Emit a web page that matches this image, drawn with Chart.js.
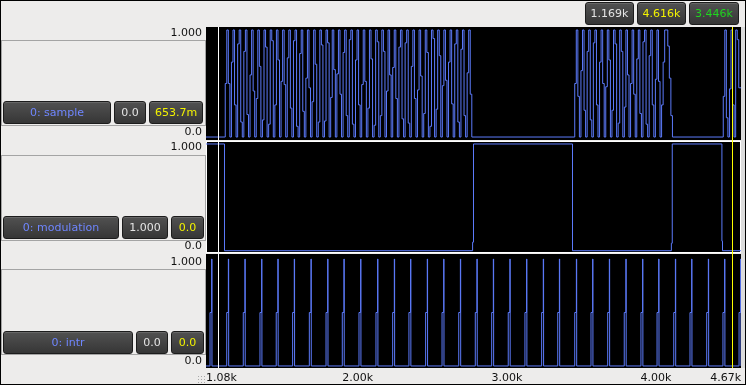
<!DOCTYPE html>
<html>
<head>
<meta charset="utf-8">
<script src="https://cdn.jsdelivr.net/npm/chart.js@4.4.1/dist/chart.umd.min.js"></script>
<style>
  body { margin: 0; background: #edeceb; font-family: "DejaVu Sans", sans-serif; font-size: 11px; }
  #wrap { position: relative; width: 746px; height: 385px; overflow: hidden; }
  #plot { position: absolute; left: 0; top: 0; }
  .frame { position: absolute; left: 0; top: 0; width: 746px; height: 385px; box-sizing: border-box; border: 1px solid #000; pointer-events: none; }
  .track { position: absolute; left: 1px; width: 205px; height: 86px; box-sizing: border-box; border: 1px solid #a4a4a4; }
  .btn { position: absolute; box-sizing: border-box; height: 23px; line-height: 21px; text-align: center; color: #e4e4e4;
         background: linear-gradient(#515151, #363636); border: 1px solid #1c1c1c; border-radius: 3px;
         box-shadow: inset 0 1px 0 rgba(255,255,255,.13); white-space: nowrap; }
  .name { color: #6f86ff; }
  .yel { color: #f2f200; }
  .grn { color: #1fd41f; }
  .strip { position: absolute; left: 741px; top: 27px; width: 4px; height: 341px; background: #dcdcdc; }
  .grip { position: absolute; left: 197px; top: 375px; width: 8px; height: 8px;
          background-image: radial-gradient(#a8a8a8 0.8px, transparent 1px); background-size: 3px 3px; }
</style>
</head>
<body>
<div id="wrap">
  <canvas id="plot" width="746" height="385"></canvas>
  <div class="strip"></div>

  <div class="track" style="top:40px"></div>
  <div class="btn name" style="left:3px;top:101px;width:108px">0: sample</div>
  <div class="btn" style="left:114px;top:101px;width:32px">0.0</div>
  <div class="btn yel" style="left:149px;top:101px;width:54px">653.7m</div>

  <div class="track" style="top:155px"></div>
  <div class="btn name" style="left:3px;top:216px;width:116px">0: modulation</div>
  <div class="btn" style="left:122px;top:216px;width:46px">1.000</div>
  <div class="btn yel" style="left:171px;top:216px;width:33px">0.0</div>

  <div class="track" style="top:269px"></div>
  <div class="btn name" style="left:3px;top:331px;width:130px">0: intr</div>
  <div class="btn" style="left:136px;top:331px;width:32px">0.0</div>
  <div class="btn yel" style="left:171px;top:331px;width:33px">0.0</div>

  <div class="btn" style="left:585px;top:2px;width:49px">1.169k</div>
  <div class="btn yel" style="left:637px;top:2px;width:49px">4.616k</div>
  <div class="btn grn" style="left:689px;top:2px;width:50px">3.446k</div>

  <div class="grip"></div>
  <div class="frame"></div>
</div>
<script>
// visible sample range and axis labels
const xMin = 1086;
const xMax = 4674;
const xTickValues = [1086, 2000, 3000, 4000];
const yTickLabels = ['0.0', '1.000'];

// cursors (sample index)
const cursorA = 1169;
const cursorB = 4616;

// modulation: change points and the level held after each
const modX = [1086, 1210, 2874, 2880, 3544, 4207, 4213, 4546, 4550];
const modY = [1, 0, 0.08, 1, 0, 0.07, 1, 0.09, 0];

// sample: bursts of held levels, one value per hold period
const burstStart = [1215, 3559, 4555];
const holdLen = 10.4;
const burstA = [
  0.50,1,0.50,0, 0.70,1,0.30,0, 0.87,1,0.14,0, 0.80,1,0.21,0, 0.58,1,0.43,0,
  0.36,1,0.66,0, 0.16,1,0.84,0, 0.12,1,0.90,0, 0.30,1,0.72,0, 0.52,1,0.49,0,
  0.74,1,0.27,0, 0.90,1,0.10,0, 0.78,1,0.24,0, 0.55,1,0.46,0, 0.33,1,0.68,0,
  0.14,1,0.86,0, 0.15,1,0.88,0, 0.37,1,0.63,0, 0.59,1,0.40,0, 0.79,1,0.20,0,
  0.91,1,0.12,0, 0.72,1,0.30,0, 0.49,1,0.52,0, 0.27,1,0.73,0, 0.11,1,0.89,0,
  0.20,1,0.80,0, 0.43,1,0.58,0, 0.65,1,0.36,0, 0.84,1,0.17,0, 0.88,1,0.13,0,
  0.66,1,0.36,0, 0.44,1,0.57,0, 0.22,1,0.79,0, 0.10,1,0.92,0, 0.26,1,0.76,0,
  0.48,1,0.53,0, 0.70,1,0.31,0, 0.87,1,0.14,0, 0.82,1,0.20,0, 0.60,1,0.40,0
];
const burstB = [
  0.50,1,0.38,0, 0.62,1,0.25,0, 0.80,1,0.16,0, 0.88,1,0.30,0, 0.70,1,0.50,0,
  0.47,1,0.72,0, 0.25,1,0.87,0, 0.13,1,0.80,0, 0.28,1,0.58,0, 0.50,1,0.40,0,
  0.73,1,0.22,0, 0.89,1,0.12,0, 0.76,1,0.30,0, 0.54,1,0.52,0,
  0.30,0.70,1,1,0.85,0.55,0.20,0
];
const burstC = [0.38, 1, 0.18, 0, 0.45, 1, 0.30, 0, 1, 0.91, 0.46];

// intr: rising edges of the pulses, and the pulse profile
const intrEdges = [1113, 1225, 1336, 1448, 1557, 1667, 1779, 1891, 2000, 2112, 2226,
  2338, 2447, 2559, 2669, 2781, 2892, 3002, 3113, 3225, 3337, 3445, 3559, 3668,
  3780, 3891, 4003, 4111, 4223, 4332, 4444, 4553, 4661];
const pulseOffsets = [0, 11, 13];
const pulseLevels = [0.5, 1, 0];

const traceColor = 'rgb(92,122,250)';
const font = {family: 'DejaVu Sans', size: 11};

const fmtK = v => (Math.floor(v / 10) / 100).toFixed(2) + 'k';

// build point lists
const samplePts = [{x: xMin, y: 0}];
[burstA, burstB, burstC].forEach((vals, k) => {
  vals.forEach((v, i) => samplePts.push({x: burstStart[k] + i * holdLen, y: v}));
});
samplePts.push({x: xMax, y: burstC[burstC.length - 1]});

const modPts = modX.map((x, i) => ({x: x, y: modY[i]}));
modPts.push({x: xMax, y: modY[modY.length - 1]});

const intrPts = [{x: xMin, y: 0}];
intrEdges.forEach(e => {
  pulseOffsets.forEach((o, j) => intrPts.push({x: e + o, y: pulseLevels[j]}));
});
intrPts.push({x: xMax, y: 0});

const trackAxes = ['ySample', 'yMod', 'yIntr'];
const selectedAxis = 'yMod';

// the labels sit a little inside the panel: an empty second line nudges them
function yAxis(weight, min, max) {
  return {
    type: 'linear', position: 'left', stack: 'tracks', stackWeight: 1, weight: weight,
    min: min, max: max,
    grid: {display: false, drawTicks: false},
    border: {display: false},
    afterBuildTicks: s => { s.ticks = [{value: 0}, {value: 1}]; },
    afterFit: s => { s.width = 206; },
    ticks: {
      padding: 4, color: '#111',
      font: c => ({family: 'DejaVu Sans', size: 11, lineHeight: c.tick && c.tick.value === 1 ? '6px' : '9px'}),
      callback: v => v === 1 ? ['', yTickLabels[1]] : [yTickLabels[0], '']
    }
  };
}

function trace(data, axis) {
  return {
    data: data, xAxisID: 'x', yAxisID: axis, stepped: true,
    borderColor: traceColor, borderWidth: 1, pointRadius: 0, fill: false, tension: 0
  };
}

// black panels behind each track, and the two cursors on top
const panels = {
  id: 'panels',
  beforeDraw(chart) {
    const {ctx, chartArea: a} = chart;
    ctx.save();
    trackAxes.forEach((id, i) => {
      const s = chart.scales[id];
      const top = Math.round(s.top);
      const bottom = i === trackAxes.length - 1 ? Math.round(s.bottom) : Math.round(s.bottom) - 1;
      ctx.fillStyle = '#000';
      ctx.fillRect(a.left, top, a.right - a.left, bottom - top);
      if (id === selectedAxis) {
        ctx.strokeStyle = '#fff';
        ctx.lineWidth = 1;
        ctx.strokeRect(a.left + 0.5, top + 0.5, a.right - a.left - 1, bottom - top - 1);
      }
    });
    ctx.restore();
  },
  afterDatasetsDraw(chart) {
    const {ctx, chartArea: a} = chart;
    const x = chart.scales.x;
    ctx.save();
    ctx.lineWidth = 1;
    [[cursorA, '#ffffff'], [cursorB, '#ffff00']].forEach(([v, c]) => {
      const px = Math.round(x.getPixelForValue(v)) + 0.5;
      ctx.strokeStyle = c;
      ctx.beginPath();
      ctx.moveTo(px, a.top);
      ctx.lineTo(px, a.bottom);
      ctx.stroke();
    });
    ctx.restore();
  }
};

new Chart(document.getElementById('plot'), {
  type: 'line',
  data: {
    datasets: [
      trace(samplePts, 'ySample'),
      trace(modPts, 'yMod'),
      trace(intrPts, 'yIntr')
    ]
  },
  options: {
    responsive: false,
    animation: false,
    events: [],
    layout: {padding: {top: 27, right: 5, bottom: 0, left: 0}},
    plugins: {legend: {display: false}, tooltip: {enabled: false}},
    scales: {
      x: {
        type: 'linear', position: 'bottom', min: xMin, max: xMax,
        grid: {display: false, drawTicks: false},
        border: {display: false},
        afterBuildTicks: s => { s.ticks = xTickValues.map(v => ({value: v})); },
        afterFit: s => { s.height = 17; },
        ticks: {align: 'start', padding: 4, autoSkip: false, maxRotation: 0, color: '#111', font: font,
                callback: v => fmtK(v)},
        title: {display: true, text: fmtK(xMax), align: 'end', padding: 0, color: '#111', font: font}
      },
      ySample: yAxis(3, -0.034, 1.028),
      yMod: yAxis(2, -0.034, 1.031),
      yIntr: yAxis(1, -0.019, 1.044)
    }
  },
  plugins: [panels]
});
</script>
</body>
</html>
